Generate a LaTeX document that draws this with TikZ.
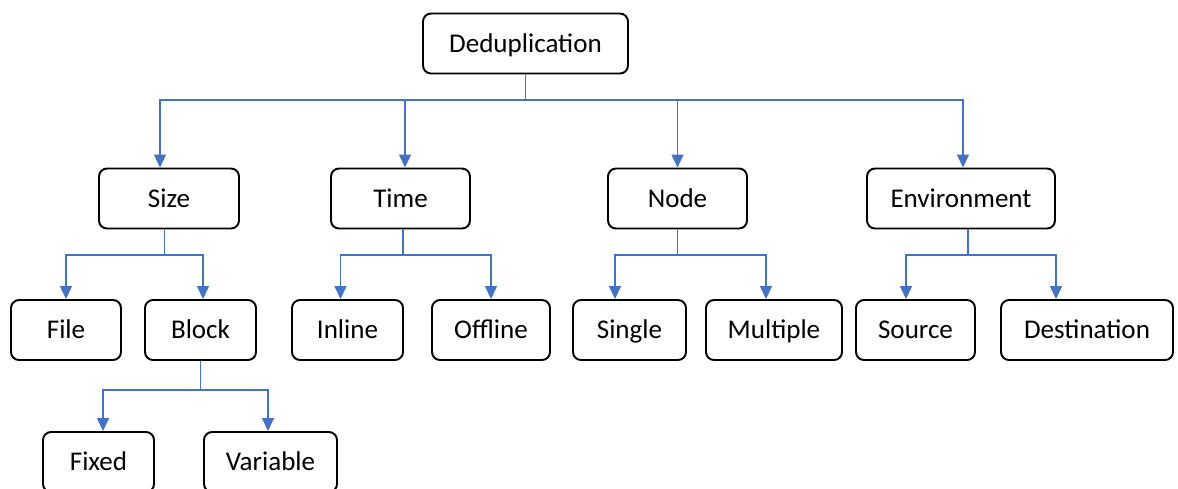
\documentclass[tikz,border=0pt]{standalone}
\usepackage{fontspec}
\setmainfont{Carlito}
\usetikzlibrary{arrows.meta}

\definecolor{linkblue}{HTML}{4472C4}

\tikzset{
  box/.style={draw, rounded corners=0.16cm, line width=1.1pt, minimum height=1.2cm,
    inner sep=0pt, text height=9.9pt, text depth=0pt, align=center,
    font=\fontsize{15.4}{18}\selectfont},
  conn/.style={linkblue, line width=0.8pt, -{Triangle[width=0.24cm,length=0.26cm]}},
}

\begin{document}
\begin{tikzpicture}[x=0.02cm,y=0.02cm]
    \useasboundingbox (0,0) rectangle (1178,-488);

    % Root
    \node[box, minimum width=4.1cm] (dedup) at (525.5,-43.5) {Deduplication};

    % First level
    \node[box, minimum width=2.8cm]  (size) at (169,-198.5) {Size};
    \node[box, minimum width=2.78cm] (time) at (400.5,-198.5) {Time};
    \node[box, minimum width=2.78cm] (node) at (677.5,-198.5) {Node};
    \node[box, minimum width=3.76cm] (env)  at (961,-198.5) {Environment};

    % Second level
    \node[box, minimum width=2.2cm]  (file)     at (66,-330) {File};
    \node[box, minimum width=2.22cm] (block)    at (200.5,-330) {Block};
    \node[box, minimum width=2.22cm] (inline)   at (347.5,-330) {Inline};
    \node[box, minimum width=2.36cm] (offline)  at (491,-330) {Offline};
    \node[box, minimum width=2.26cm] (single)   at (629.5,-330) {Single};
    \node[box, minimum width=2.72cm] (multiple) at (774,-330) {Multiple};
    \node[box, minimum width=2.38cm] (source)   at (915.5,-330) {Source};
    \node[box, minimum width=3.44cm] (dest)     at (1087,-330) {Destination};

    % Third level
    \node[box, minimum width=2.22cm] (fixed)    at (98.5,-462) {Fixed};
    \node[box, minimum width=2.66cm] (variable) at (270.5,-462) {Variable};

    % Bus lines
    \coordinate (bus1) at (0,-100);
    \coordinate (bus2) at (0,-255);
    \coordinate (bus3) at (0,-390);

    % Root to first level
    \draw[conn] (dedup.south) -- (dedup.south |- bus1) -| ([xshift=-0.18cm]size.north);
    \draw[conn] (dedup.south) -- (dedup.south |- bus1) -| ([xshift=0.09cm]time.north);
    \draw[conn] (dedup.south) -- (dedup.south |- bus1) -| (node.north);
    \draw[conn] (dedup.south) -- (dedup.south |- bus1) -| ([xshift=0.04cm]env.north);

    % Size
    \draw[conn] ([xshift=-0.09cm]size.south) -- ([xshift=-0.09cm]size.south |- bus2) -| (file.north);
    \draw[conn] ([xshift=-0.09cm]size.south) -- ([xshift=-0.09cm]size.south |- bus2) -| ([xshift=0.05cm]block.north);

    % Time
    \draw[conn] ([xshift=0.05cm]time.south) -- ([xshift=0.05cm]time.south |- bus2) -| ([xshift=-0.14cm]inline.north);
    \draw[conn] ([xshift=0.05cm]time.south) -- ([xshift=0.05cm]time.south |- bus2) -| (offline.north);

    % Node
    \draw[conn] (node.south) -- (node.south |- bus2) -| ([xshift=-0.29cm]single.north);
    \draw[conn] (node.south) -- (node.south |- bus2) -| ([xshift=-0.16cm]multiple.north);

    % Environment
    \draw[conn] ([xshift=0.14cm]env.south) -- ([xshift=0.14cm]env.south |- bus2) -| ([xshift=-0.19cm]source.north);
    \draw[conn] ([xshift=0.14cm]env.south) -- ([xshift=0.14cm]env.south |- bus2) -| ([xshift=-0.62cm]dest.north);

    % Block
    \draw[conn] (block.south) -- (block.south |- bus3) -| ([xshift=0.09cm]fixed.north);
    \draw[conn] (block.south) -- (block.south |- bus3) -| ([xshift=-0.05cm]variable.north);
\end{tikzpicture}
\end{document}
